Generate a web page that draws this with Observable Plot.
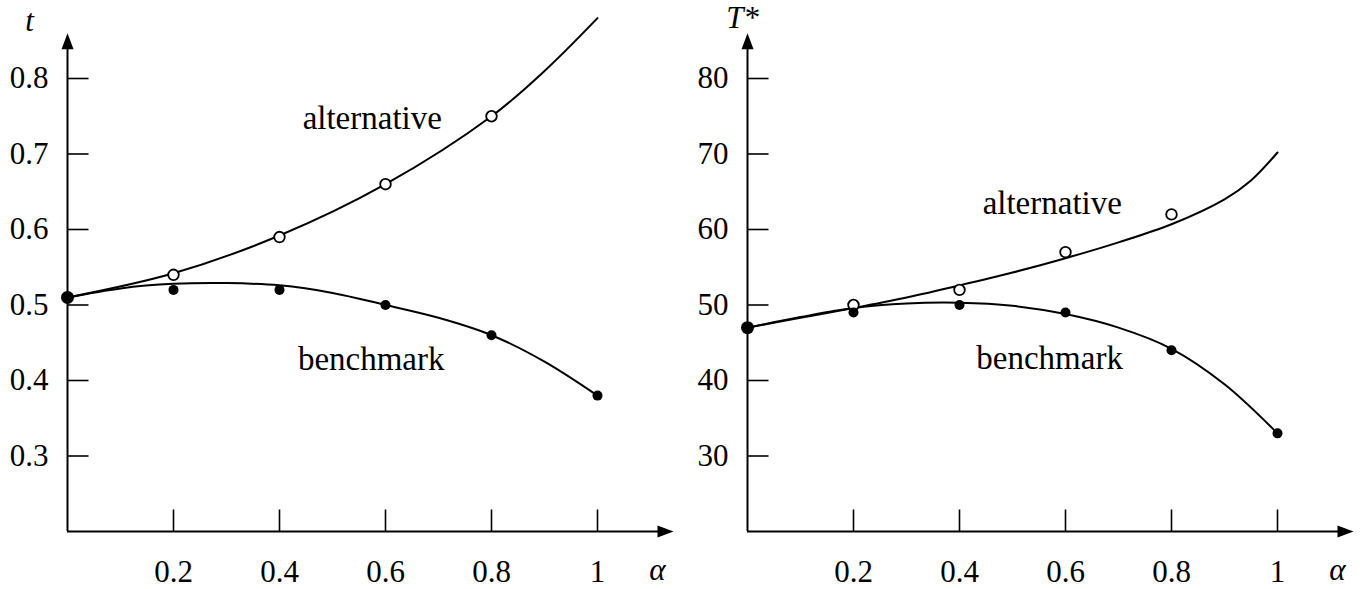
<!DOCTYPE html>
<html><head><meta charset="utf-8">
<script src="https://cdn.jsdelivr.net/npm/d3@7"></script>
<script src="https://cdn.jsdelivr.net/npm/@observablehq/plot@0.6"></script>
<style>
html,body{margin:0;padding:0;background:#fff;}
#wrap{display:flex;width:1365px;height:589px;overflow:hidden;}
</style></head><body><div id="wrap"></div>
<script>
// ---------- shared x (alpha) ----------
const xTicks = [0.2, 0.4, 0.6, 0.8, 1];
const xTickText = ["0.2", "0.4", "0.6", "0.8", "1"];
const xLabel = "α";

// ---------- left panel: t ----------
const tTicks = [0.3, 0.4, 0.5, 0.6, 0.7, 0.8];
const tTickText = ["0.3", "0.4", "0.5", "0.6", "0.7", "0.8"];
const tLabel = "t";
const tAltAlpha = [0.2, 0.4, 0.6, 0.8];
const tAltValues = [0.54, 0.59, 0.66, 0.75];
const tBenchAlpha = [0, 0.2, 0.4, 0.6, 0.8, 1];
const tBenchValues = [0.51, 0.52, 0.52, 0.50, 0.46, 0.38];
const tAltCurveAlpha = [0, 0.2, 0.4, 0.6, 0.8, 0.9, 1];
const tAltCurveValues = [0.51, 0.542, 0.592, 0.66, 0.75, 0.81, 0.88];
const tBenchCurveAlpha = [0, 0.1, 0.2, 0.3, 0.4, 0.5, 0.6, 0.7, 0.8, 0.9, 1];
const tBenchCurveValues = [0.51, 0.522, 0.528, 0.529, 0.526, 0.516, 0.50, 0.483, 0.46, 0.425, 0.38];
const tNoteText = ["alternative", "benchmark"];
const tNoteAlpha = [0.575, 0.573];
const tNoteValues = [0.747, 0.4285];

// ---------- right panel: T* ----------
const TTicks = [30, 40, 50, 60, 70, 80];
const TTickText = ["30", "40", "50", "60", "70", "80"];
const TLabel = "T*";
const TAltAlpha = [0.2, 0.4, 0.6, 0.8];
const TAltValues = [50, 52, 57, 62];
const TBenchAlpha = [0, 0.2, 0.4, 0.6, 0.8, 1];
const TBenchValues = [47, 49, 50, 49, 44, 33];
const TAltCurveAlpha = [0, 0.1, 0.2, 0.3, 0.4, 0.5, 0.6, 0.7, 0.8, 0.9, 0.95, 1];
const TAltCurveValues = [47, 48.3, 49.6, 51.0, 52.6, 54.3, 56.2, 58.3, 60.7, 64.0, 66.5, 70.2];
const TBenchCurveAlpha = [0, 0.1, 0.2, 0.3, 0.4, 0.5, 0.6, 0.7, 0.8, 0.9, 1];
const TBenchCurveValues = [47, 48.4, 49.6, 50.2, 50.3, 49.9, 48.8, 47.0, 44.2, 39.5, 33];
const TNoteText = ["alternative", "benchmark"];
const TNoteAlpha = [0.575, 0.570];
const TNoteValues = [63.4, 42.9];

const zip = (a, v) => a.map((x, i) => ({a: x, v: v[i]}));
const FONT = "'Liberation Serif', 'Times New Roman', serif";

const arrowUp = {draw(ctx) { ctx.moveTo(0, 0); ctx.lineTo(-6, 16); ctx.lineTo(6, 16); ctx.closePath(); }};
const arrowRight = {draw(ctx) { ctx.moveTo(0, 0); ctx.lineTo(-16, -6); ctx.lineTo(-16, 6); ctx.closePath(); }};

function panel(cfg) {
  const xDomain = [0, 1];
  const width = cfg.width, height = 589;
  const marginLeft = 67, marginTop = 78, marginBottom = 58;
  const marginRight = width - 597;
  const pxX = (xDomain[1] - xDomain[0]) / (width - marginLeft - marginRight);
  const pxY = (cfg.yDomain[1] - cfg.yDomain[0]) / (height - marginTop - marginBottom);
  const y0 = cfg.yDomain[0];
  const yTop = cfg.yDomain[1] + 45.3 * pxY;
  const xEnd = 1 + 76 * pxX;
  const fmt = (ticks, text) => d => text[ticks.indexOf(d)];
  const notes = cfg.noteText.map((t, i) => ({label: t, a: cfg.noteAlpha[i], v: cfg.noteValues[i]}));
  return Plot.plot({
    width, height, marginLeft, marginRight, marginTop, marginBottom,
    x: {domain: xDomain},
    y: {domain: cfg.yDomain},
    style: {fontFamily: FONT, fontSize: "31px", background: "#fff", overflow: "visible", color: "#000"},
    marks: [
      // axes lines with arrows
      Plot.ruleY([y0], {x1: 0, x2: xEnd - 8 * pxX, stroke: "#000", strokeWidth: 2}),
      Plot.ruleX([0], {y1: y0, y2: yTop - 8 * pxY, stroke: "#000", strokeWidth: 2}),
      Plot.dot([0], {x: xEnd, y: y0, symbol: arrowRight, fill: "#000", stroke: "none", r: 5}),
      Plot.dot([0], {x: 0, y: yTop, symbol: arrowUp, fill: "#000", stroke: "none", r: 5}),
      // inward ticks
      Plot.ruleX(xTicks, {x: d => d, y1: y0, y2: y0 + 21.5 * pxY, stroke: "#000", strokeWidth: 1.6}),
      Plot.ruleY(cfg.yTicks, {y: d => d, x1: 0, x2: 21.5 * pxX, stroke: "#000", strokeWidth: 1.6}),
      // tick labels
      Plot.axisX(xTicks, {tickSize: 0, tickPadding: 28, tickFormat: fmt(xTicks, xTickText), label: null, fontSize: 31, fill: "#000"}),
      Plot.axisY(cfg.yTicks, {tickSize: 0, tickPadding: 19, tickFormat: fmt(cfg.yTicks, cfg.yTickText), label: null, fontSize: 31, fill: "#000"}),
      // axis names
      Plot.text([cfg.yLabel], {x: 0, y: yTop, dx: cfg.labelDx, dy: cfg.labelDy, text: d => d, fontStyle: "italic", fontSize: 31, fill: "#000"}),
      Plot.text([xLabel], {x: 1 + 60 * pxX, y: y0, dy: 39, text: d => d, fontStyle: "italic", fontSize: 31, fill: "#000"}),
      // curves
      Plot.line(zip(cfg.altCurveAlpha, cfg.altCurveValues), {x: "a", y: "v", curve: "catmull-rom", stroke: "#000", strokeWidth: 2}),
      Plot.line(zip(cfg.benchCurveAlpha, cfg.benchCurveValues), {x: "a", y: "v", curve: "catmull-rom", stroke: "#000", strokeWidth: 2}),
      // points
      Plot.dot(zip(cfg.altAlpha, cfg.altValues), {x: "a", y: "v", r: 5.3, stroke: "#000", strokeWidth: 1.8, fill: "#fff"}),
      Plot.dot(zip(cfg.benchAlpha, cfg.benchValues), {filter: d => d.a > 0, x: "a", y: "v", r: 5, fill: "#000", stroke: "none"}),
      Plot.dot(zip(cfg.benchAlpha, cfg.benchValues), {filter: d => d.a === 0, x: "a", y: "v", r: 6.5, fill: "#000", stroke: "none"}),
      // series labels
      Plot.text(notes, {x: "a", y: "v", text: "label", fontSize: 33, fill: "#000"})
    ]
  });
}

const wrap = document.getElementById("wrap");
wrap.append(panel({
  width: 680, yDomain: [0.2, 0.8], yTicks: tTicks, yTickText: tTickText, yLabel: tLabel, labelDx: -38, labelDy: -12,
  altAlpha: tAltAlpha, altValues: tAltValues, benchAlpha: tBenchAlpha, benchValues: tBenchValues,
  altCurveAlpha: tAltCurveAlpha, altCurveValues: tAltCurveValues, benchCurveAlpha: tBenchCurveAlpha, benchCurveValues: tBenchCurveValues,
  noteText: tNoteText, noteAlpha: tNoteAlpha, noteValues: tNoteValues
}));
wrap.append(panel({
  width: 685, yDomain: [20, 80], yTicks: TTicks, yTickText: TTickText, yLabel: TLabel, labelDx: -5, labelDy: -15,
  altAlpha: TAltAlpha, altValues: TAltValues, benchAlpha: TBenchAlpha, benchValues: TBenchValues,
  altCurveAlpha: TAltCurveAlpha, altCurveValues: TAltCurveValues, benchCurveAlpha: TBenchCurveAlpha, benchCurveValues: TBenchCurveValues,
  noteText: TNoteText, noteAlpha: TNoteAlpha, noteValues: TNoteValues
}));
</script></body></html>
